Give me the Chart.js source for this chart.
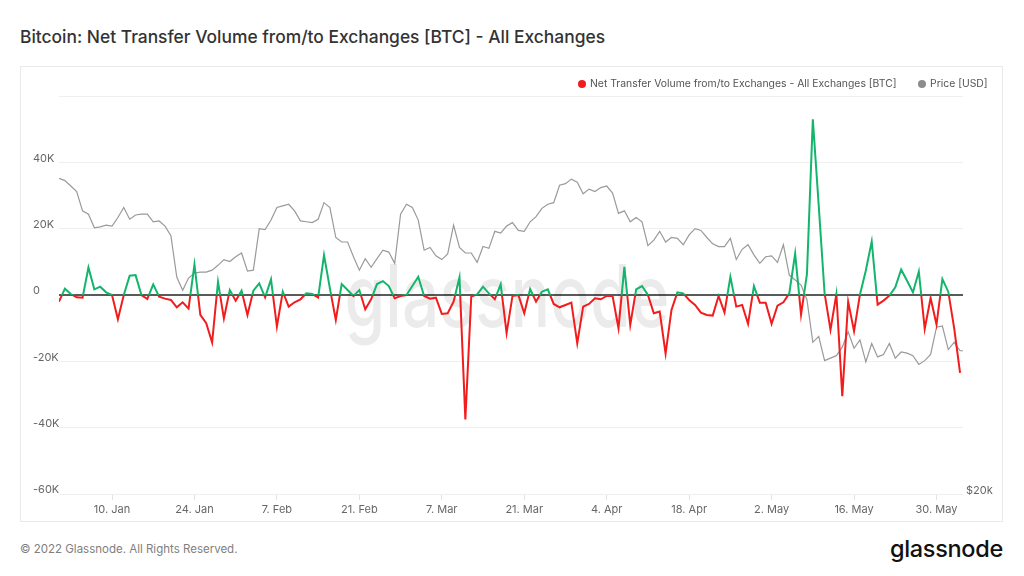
<!DOCTYPE html>
<html>
<head>
<meta charset="utf-8">
<script src="https://cdn.jsdelivr.net/npm/chart.js@4.4.1/dist/chart.umd.min.js"></script>
<style>
    html, body { margin: 0; padding: 0; background: #fff; }
    body { width: 1024px; height: 576px; position: relative; overflow: hidden; font-family: Inter, "Noto Sans", sans-serif; }
    #title { position: absolute; left: 20px; top: 26px; font-size: 17.4px; font-weight: 500; color: #333; white-space: nowrap; }
    #card { position: absolute; left: 20px; top: 66px; width: 981px; height: 454px; border: 1px solid #e9e9e9; }
    .legend { position: absolute; top: 77px; font-size: 10.4px; color: #555; white-space: nowrap; }
    .legend span { display: inline-block; width: 8px; height: 8px; border-radius: 50%; margin-right: 4px; vertical-align: -1px; }
    #footer { position: absolute; left: 20px; top: 542px; font-size: 11.5px; color: #808080; }
    #logo { position: absolute; right: 21px; top: 534px; font-size: 23.5px; font-weight: 500; color: #111; letter-spacing: -0.3px; }
</style>
</head>
<body>
<div id="title">Bitcoin: Net Transfer Volume from/to Exchanges [BTC] - All Exchanges</div>
<div id="card"><canvas id="netflowChart"></canvas></div>
<div class="legend" style="left:578px"><span style="background:#f21c1c"></span>Net Transfer Volume from/to Exchanges - All Exchanges [BTC]</div>
<div class="legend" style="left:918px"><span style="background:#8c8c8c"></span>Price [USD]</div>
<div id="footer">© 2022 Glassnode. All Rights Reserved.</div>
<div id="logo">glassnode</div>

<script>
// Daily values starting 1 Jan 2022 (index = day number)
const netFlow = [
    -2000, 1900, 300, -700, -800, 8300, 1700, 2500, 800, 0,
    -7300, 0, 5800, 6000, 0, -1200, 3200, -500, -1100, -1500,
    -3700, -2200, -4100, 9200, -6000, -8500, -14300, 4000, -7100, 1500,
    -1700, 1300, -6000, 1300, 3500, -700, 4700, -9500, 1000, -3500,
    -2200, -1300, 500, 300, -800, 12000, 2000, -7500, 3300, 1500,
    -300, 1500, -4300, -1300, 3300, 4200, 2700, -1000, -300, 0,
    2700, 5500, -300, -1100, -800, -5700, -5500, -2000, 5300, -37500,
    -500, 200, 2500, 500, -1300, 3200, -11500, -300, 0, -5500,
    1800, -2000, 1000, 1700, -2700, -3700, -3000, -2300, -14600, -3500,
    -2700, -1000, -1300, -300, -300, -10000, 8500, -9000, 1700, 2700,
    0, -5500, -5000, -17700, -4500, 800, 500, -1500, -3000, -5300,
    -6000, -6200, -300, -5300, 5500, -3500, -3000, -8700, 2700, -2300,
    -2300, -8700, -3200, -2200, 500, 12500, -5900, 6300, 53000, 27000,
    500, -10500, 300, -30500, -2000, -10900, 100, 7400, 16100, -2900,
    -1700, -200, 2300, 7700, 4300, 800, 7100, -10200, -900, -8900,
    4800, 1000, -10000, -23500,
];

const priceUsd = [
    47800, 47500, 46800, 46100, 43700, 43300, 41700, 41800, 42000, 41900,
    42900, 44100, 42700, 43200, 43300, 43300, 42400, 42500, 41900, 40800,
    36400, 35100, 36300, 36800, 36900, 36900, 37100, 37600, 38200, 38000,
    38500, 38900, 37000, 37100, 41600, 41500, 42600, 44100, 44300, 44500,
    43700, 42500, 42400, 42300, 42700, 44700, 44100, 40600, 40100, 40100,
    38500, 37100, 38300, 37400, 38300, 39200, 39000, 37800, 43300, 44500,
    44100, 42600, 39200, 39500, 38600, 38200, 38800, 42000, 39500, 38900,
    38900, 37900, 39600, 39400, 41300, 41100, 41900, 42300, 41400, 41300,
    42400, 43000, 44000, 44500, 44700, 46900, 47100, 47700, 47300, 45800,
    46400, 46100, 46600, 46800, 45900, 43400, 43700, 42400, 42900, 42400,
    39700, 40300, 41300, 40100, 40600, 40500, 39800, 40900, 41600, 41400,
    40600, 39900, 39600, 39600, 40500, 38200, 39300, 39800, 38700, 37800,
    38500, 38600, 37900, 39800, 36600, 36100, 35600, 34200, 30400, 30900,
    28900, 29100, 29300, 30000, 31300, 29900, 30600, 28800, 30300, 29200,
    29400, 30300, 29100, 29600, 29500, 29300, 28600, 28900, 29400, 31700,
    31800, 29800, 30400, 29700, 29700,
];

// x ticks: day index and label
const tickDays = [9, 23, 37, 51, 65, 79, 93, 107, 121, 135, 149];
const tickLabels = ["10. Jan", "24. Jan", "7. Feb", "21. Feb", "7. Mar", "21. Mar", "4. Apr", "18. Apr", "2. May", "16. May", "30. May"];

const yTicks = [-60000, -40000, -20000, 0, 20000, 40000, 60000];
const priceTicks = [20000];

const colors = {
    inflow: "#f21c1c",
    outflow: "#12b56b",
    price: "#9a9a9a",
    zero: "#5a5a5a",
    grid: "#efefef",
    text: "#666",
};

// green above zero, red below
function netColor(context) {
    const chart = context.chart;
    const area = chart.chartArea;
    if (!area) return colors.inflow;
    const zeroY = chart.scales.y.getPixelForValue(0);
    let f = (zeroY - area.top) / (area.bottom - area.top);
    f = Math.min(Math.max(f, 0), 1);
    const g = chart.ctx.createLinearGradient(0, area.top, 0, area.bottom);
    g.addColorStop(0, colors.outflow);
    g.addColorStop(f, colors.outflow);
    g.addColorStop(f, colors.inflow);
    g.addColorStop(1, colors.inflow);
    return g;
}

const watermark = {
    id: "watermark",
    beforeDatasetsDraw(chart) {
        const { ctx, chartArea } = chart;
        ctx.save();
        ctx.font = "500 86px Inter, sans-serif";
        ctx.fillStyle = "rgba(0,0,0,0.08)";
        ctx.textBaseline = "alphabetic";
        const w = ctx.measureText("glassnode").width;
        const cx = (chartArea.left + chartArea.right) / 2 - 4;
        ctx.translate(cx, 260);
        ctx.scale(325 / w, 1);
        ctx.textAlign = "center";
        ctx.fillText("glassnode", 0, 0);
        ctx.restore();
    },
};

new Chart(document.getElementById("netflowChart").getContext("2d"), {
    type: "line",
    data: {
        datasets: [
            {
                label: "Net Transfer Volume from/to Exchanges - All Exchanges [BTC]",
                data: netFlow.map((v, i) => ({ x: i, y: v })),
                borderColor: netColor,
                borderWidth: 2,
                pointRadius: 0,
                tension: 0,
                yAxisID: "y",
            },
            {
                label: "Price [USD]",
                data: priceUsd.map((v, i) => ({ x: i, y: v })),
                borderColor: colors.price,
                borderWidth: 1.2,
                pointRadius: 0,
                tension: 0,
                yAxisID: "price",
            },
        ],
    },
    options: {
        responsive: true,
        maintainAspectRatio: false,
        animation: false,
        layout: {
            padding: { left: 12, right: 0, top: 29, bottom: 0 },
        },
        plugins: {
            legend: { display: false },
            tooltip: { enabled: false },
        },
        scales: {
            x: {
                type: "linear",
                min: 0,
                max: 153.5,
                afterBuildTicks: (scale) => {
                    scale.ticks = tickDays.map((d) => ({ value: d }));
                },
                afterFit: (scale) => {
                    scale.height = 27;
                },
                ticks: {
                    autoSkip: false,
                    maxRotation: 0,
                    padding: 3,
                    color: colors.text,
                    font: { family: "Inter", size: 11 },
                    callback: (value) => tickLabels[tickDays.indexOf(value)],
                },
                grid: {
                    drawOnChartArea: false,
                    tickLength: 6,
                    color: "#e3e3e3",
                },
                border: { display: false },
            },
            y: {
                position: "left",
                min: -60000,
                max: 60000,
                afterBuildTicks: (scale) => {
                    scale.ticks = yTicks.map((v) => ({ value: v }));
                },
                afterFit: (scale) => {
                    scale.width = 26;
                },
                ticks: {
                    crossAlign: "far",
                    labelOffset: -4,
                    color: colors.text,
                    font: { family: "Inter", size: 11 },
                    callback: (value) => (value === 60000 ? "" : value === 0 ? "0" : value / 1000 + "K"),
                },
                grid: {
                    drawTicks: false,
                    color: (ctx) => (ctx.tick && ctx.tick.value === 0 ? colors.zero : colors.grid),
                    lineWidth: (ctx) => (ctx.tick && ctx.tick.value === 0 ? 2 : 1),
                },
                border: { display: false },
            },
            price: {
                type: "logarithmic",
                position: "right",
                min: 20000,
                max: 60000,
                afterBuildTicks: (scale) => {
                    scale.ticks = priceTicks.map((v) => ({ value: v }));
                },
                afterFit: (scale) => {
                    scale.width = 39;
                },
                ticks: {
                    padding: 3,
                    labelOffset: -3,
                    color: colors.text,
                    font: { family: "Inter", size: 11 },
                    callback: (value) => "$" + value / 1000 + "k",
                },
                grid: { display: false, drawTicks: false },
                border: { display: false },
            },
        },
    },
    plugins: [watermark],
});
</script>
</body>
</html>
